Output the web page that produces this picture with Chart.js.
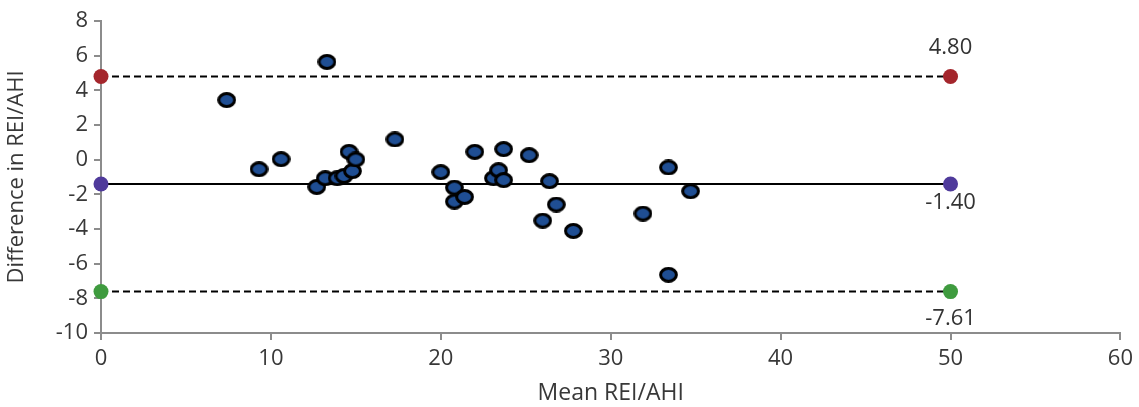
<!DOCTYPE html>
<html>
<head>
<meta charset="utf-8">
<script src="https://cdn.jsdelivr.net/npm/chart.js@4.4.0/dist/chart.umd.min.js"></script>
<style>
  html, body { margin: 0; padding: 0; background: #fff; }
  #wrap { width: 1139px; height: 407px; position: relative; }
</style>
</head>
<body>
<div id="wrap"><canvas id="baChart"></canvas></div>
<script>
// Bland-Altman data: mean of the two methods vs their difference
var meanVals = [7.4, 9.3, 10.6, 13.3, 12.7, 13.2, 13.9, 14.3, 14.8, 14.6, 15.0, 17.3,
                20.0, 20.8, 20.8, 21.4, 22.0, 23.1, 23.4, 23.7, 23.7, 25.2, 26.4, 26.8,
                26.0, 27.8, 31.9, 33.4, 34.7, 33.4];
var diffVals = [3.44, -0.55, 0.03, 5.64, -1.57, -1.07, -1.07, -0.94, -0.66, 0.45, 0.01, 1.17,
                -0.72, -1.61, -2.42, -2.15, 0.45, -1.07, -0.61, -1.18, 0.61, 0.26, -1.24, -2.59,
                -3.52, -4.11, -3.11, -0.45, -1.82, -6.64];

var limitX = [0, 50];
var upperLoA = 4.80;
var bias = -1.40;
var lowerLoA = -7.61;

var xMin = 0, xMax = 60, xStep = 10;
var yMin = -10, yMax = 8, yStep = 2;

var fontFamily = '"Open Sans", "DejaVu Sans", sans-serif';
var textColor = '#383838';
var axisColor = '#8c8c8c';

// oval marker like the original (slightly wider than tall)
function makeOval(w, h, fill) {
    var c = document.createElement('canvas');
    c.width = w; c.height = h;
    var g = c.getContext('2d');
    g.beginPath();
    g.ellipse(w / 2, h / 2, w / 2 - 1.6, h / 2 - 1.6, 0, 0, Math.PI * 2);
    g.fillStyle = fill;
    g.fill();
    g.lineWidth = 3;
    g.strokeStyle = '#000';
    g.stroke();
    return c;
}
var ovalMarker = makeOval(19, 16, '#1f4e93');

function lineData(v) {
    return limitX.map(function (x) { return { x: x, y: v }; });
}

var points = meanVals.map(function (m, i) { return { x: m, y: diffVals[i] }; });

// value labels next to the right end of each reference line
var loaLabels = {
    id: 'loaLabels',
    afterDatasetsDraw: function (chart) {
        var ctx = chart.ctx;
        var xs = chart.scales.x, ys = chart.scales.y;
        var items = [
            { v: upperLoA, dy: -29 },
            { v: bias, dy: 19 },
            { v: lowerLoA, dy: 27 }
        ];
        ctx.save();
        ctx.font = '22px ' + fontFamily;
        ctx.fillStyle = '#333';
        ctx.textAlign = 'center';
        ctx.textBaseline = 'middle';
        items.forEach(function (it) {
            var px = xs.getPixelForValue(limitX[1]);
            var py = ys.getPixelForValue(it.v);
            ctx.fillText(it.v.toFixed(2), px, py + it.dy);
        });
        ctx.restore();
    }
};

new Chart(document.getElementById('baChart'), {
    type: 'scatter',
    data: {
        datasets: [
            {
                label: 'Upper LoA',
                data: lineData(upperLoA),
                showLine: true,
                borderColor: '#000',
                borderWidth: 2,
                borderDash: [7, 4],
                pointRadius: 7.5,
                pointBackgroundColor: '#a4262c',
                pointBorderWidth: 0,
                clip: false,
                order: 3
            },
            {
                label: 'Bias',
                data: lineData(bias),
                showLine: true,
                borderColor: '#000',
                borderWidth: 2,
                pointRadius: 7.5,
                pointBackgroundColor: '#4f3a9b',
                pointBorderWidth: 0,
                clip: false,
                order: 3
            },
            {
                label: 'Lower LoA',
                data: lineData(lowerLoA),
                showLine: true,
                borderColor: '#000',
                borderWidth: 2,
                borderDash: [7, 4],
                pointRadius: 7.5,
                pointBackgroundColor: '#3f9b3f',
                pointBorderWidth: 0,
                clip: false,
                order: 3
            },
            {
                label: 'Difference',
                data: points,
                pointStyle: ovalMarker,
                pointRadius: 8,
                clip: false,
                order: 1
            }
        ]
    },
    options: {
        responsive: true,
        maintainAspectRatio: false,
        animation: false,
        layout: {
            padding: { top: 21, right: 18, left: 0, bottom: 0 }
        },
        plugins: {
            legend: { display: false },
            tooltip: { enabled: false }
        },
        scales: {
            x: {
                type: 'linear',
                min: xMin,
                max: xMax,
                afterFit: function (s) { s.height = 74; },
                ticks: {
                    stepSize: xStep,
                    color: textColor,
                    font: { family: fontFamily, size: 22 },
                    padding: 6
                },
                grid: {
                    display: true,
                    drawOnChartArea: false,
                    drawTicks: true,
                    tickLength: 7,
                    color: axisColor,
                    lineWidth: 2
                },
                border: { color: axisColor, width: 2 },
                title: {
                    display: true,
                    text: 'Mean REI/AHI',
                    color: textColor,
                    font: { family: fontFamily, size: 23 },
                    padding: { top: 0, bottom: 0 }
                }
            },
            y: {
                type: 'linear',
                min: yMin,
                max: yMax,
                afterFit: function (s) { s.width = 101; },
                ticks: {
                    stepSize: yStep,
                    color: textColor,
                    font: { family: fontFamily, size: 22 },
                    padding: 6
                },
                grid: {
                    display: true,
                    drawOnChartArea: false,
                    drawTicks: true,
                    tickLength: 7,
                    color: axisColor,
                    lineWidth: 2
                },
                border: { color: axisColor, width: 2 },
                title: {
                    display: true,
                    text: 'Difference in REI/AHI',
                    color: textColor,
                    font: { family: fontFamily, size: 22 },
                    padding: { top: 4, bottom: 0 }
                }
            }
        }
    },
    plugins: [loaLabels]
});
</script>
</body>
</html>
